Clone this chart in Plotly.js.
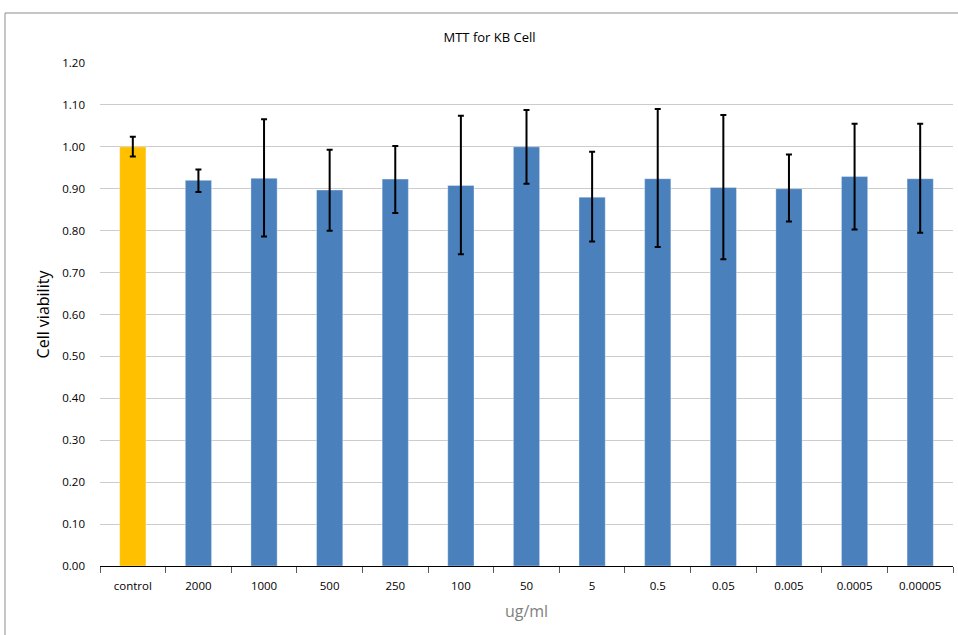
<!DOCTYPE html>
<html>
<head>
<meta charset="utf-8">
<script src="https://cdn.plot.ly/plotly-3.0.1.min.js"></script>
<style>html,body{margin:0;padding:0;background:#fff;}#chart{width:958px;height:635px;}</style>
</head>
<body>
<div id="chart"></div>
<script>
const categories = ["control","2000","1000","500","250","100","50","5","0.5","0.05","0.005","0.0005","0.00005"];
const viability = [1.000,0.920,0.925,0.897,0.923,0.908,1.000,0.880,0.924,0.903,0.900,0.929,0.924];
const errPlus  = [0.024,0.026,0.141,0.096,0.079,0.166,0.088,0.108,0.166,0.173,0.082,0.126,0.131];
const errMinus = [0.023,0.028,0.139,0.097,0.081,0.164,0.088,0.106,0.163,0.171,0.078,0.126,0.129];
const barColors = categories.map(c => c === "control" ? "#FFC000" : "#4A81BD");

const trace = {
  type: "bar",
  x: categories,
  y: viability,
  marker: {color: barColors, line: {color: "rgba(255,255,255,0.35)", width: 1}},
  error_y: {type: "data", symmetric: false, array: errPlus, arrayminus: errMinus,
            color: "#000", thickness: 2, width: 3},
  hoverinfo: "x+y"
};

const font = "Open Sans, Noto Sans, sans-serif";
const layout = {
  width: 958, height: 635,
  margin: {l: 100, r: 5, t: 63, b: 69},
  paper_bgcolor: "#fff", plot_bgcolor: "#fff",
  bargap: 0.6,
  showlegend: false,
  title: {text: "MTT for KB Cell", font: {family: font, size: 13, color: "#000"},
          x: 0.511, xref: "container", y: 0.948, yref: "container", xanchor: "center"},
  xaxis: {
    type: "category",
    showline: true, linecolor: "#000", linewidth: 1,
    ticks: "outside", tickson: "boundaries", ticklen: 6, tickcolor: "#595959",
    tickfont: {family: font, size: 11.5, color: "#000"},
    ticklabelstandoff: 9,
    showgrid: false, zeroline: false,
    title: {text: "ug/ml", font: {family: font, size: 16, color: "#7f7f7f"}, standoff: 14}
  },
  yaxis: {
    range: [0, 1.2], dtick: 0.1, tickformat: ".2f",
    showgrid: true, gridcolor: "#cccccc", gridwidth: 1,
    zeroline: false, showline: false, ticks: "",
    tickfont: {family: font, size: 11.5, color: "#000"},
    ticklabelstandoff: 14,
    title: {text: "Cell viability", font: {family: font, size: 16, color: "#000"}, standoff: 8}
  },
  shapes: [
    {type: "line", xref: "paper", yref: "paper", x0: (5-100)/853, x1: 1.01, y0: (566-13)/503, y1: (566-13)/503,
     line: {color: "#8c8c8c", width: 1}},
    {type: "line", xref: "paper", yref: "paper", x0: (5-100)/853, x1: (5-100)/853, y0: (566-13)/503, y1: -0.2,
     line: {color: "#8c8c8c", width: 1}}
  ]
};

Plotly.newPlot("chart", [trace], layout, {staticPlot: true, displayModeBar: false});
</script>
</body>
</html>
